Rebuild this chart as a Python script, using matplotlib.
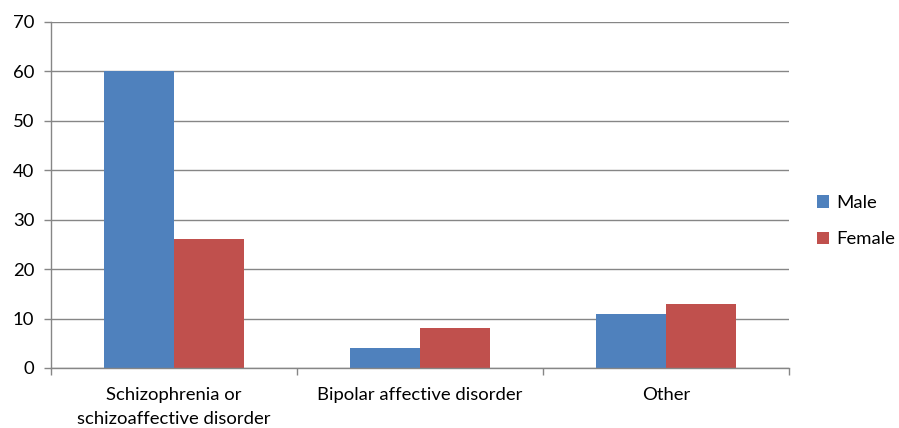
import matplotlib
matplotlib.use("Agg")
import matplotlib.pyplot as plt
from matplotlib.patches import Patch
import numpy as np

categories = ["Schizophrenia or\nschizoaffective disorder",
              "Bipolar affective disorder",
              "Other"]
male = [60, 4, 11]
female = [26, 8, 13]
series_names = ["Male", "Female"]
colors = ["#4F81BD", "#C0504D"]
yticks = [0, 10, 20, 30, 40, 50, 60, 70]

plt.rcParams["font.family"] = ["Lato", "DejaVu Sans"]
fs = 13.3

fig = plt.figure(figsize=(8.99, 4.28), dpi=100)
ax = fig.add_axes([51 / 899, 1 - 368 / 428, (789 - 51) / 899, (368 - 22) / 428])

x = np.arange(len(categories))
w = 1 / 3.5
ax.bar(x - w / 2, male, width=w, color=colors[0], zorder=3)
ax.bar(x + w / 2, female, width=w, color=colors[1], zorder=3)

ax.set_xlim(-0.5, len(categories) - 0.5)
ax.set_ylim(0, 70)
ax.set_yticks(yticks)
ax.set_yticklabels([str(v) for v in yticks], fontsize=fs, color="#000000")

ax.set_xticks(x)
ax.set_xticklabels(categories, fontsize=fs, color="#000000", linespacing=1.6)
ax.tick_params(axis="x", which="major", length=0, pad=14)
ax.set_xticks(np.arange(-0.5, len(categories)), minor=True)
ax.tick_params(axis="x", which="minor", length=5, color="#868686", width=1)
ax.tick_params(axis="y", length=5, color="#868686", width=1, pad=7)

ax.yaxis.grid(True, color="#868686", linewidth=1)
ax.set_axisbelow(True)
for s in ["top", "right"]:
    ax.spines[s].set_visible(False)
for s in ["left", "bottom"]:
    ax.spines[s].set_color("#868686")
    ax.spines[s].set_linewidth(1)
    ax.spines[s].set_zorder(4)

handles = [Patch(facecolor=c, edgecolor="none") for c in colors]
fig.legend(handles, series_names, loc="center left",
           bbox_to_anchor=(810 / 899, 1 - 221 / 428), frameon=False,
           fontsize=fs, handlelength=0.65, handleheight=0.65,
           handletextpad=0.35, labelspacing=1.1, borderaxespad=0)

fig.savefig("out.png", dpi=100)
